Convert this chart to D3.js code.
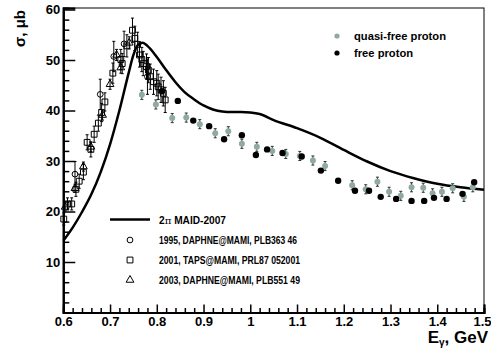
<!DOCTYPE html>
<html>
<head>
<meta charset="utf-8">
<script src="https://cdn.jsdelivr.net/npm/d3@7"></script>
<style>
  html, body { margin: 0; padding: 0; background: #fff; }
  svg { display: block; }
  text { font-family: "Liberation Sans", Arial, Helvetica, sans-serif; font-weight: bold; fill: #000; }
</style>
</head>
<body>
<svg id="chart" width="491" height="349"></svg>
<script>
// σ(γp) vs E_γ: MAID-2007 curve, quasi-free / free proton, and old MAMI data

// 2π MAID-2007
const maidE = [0.60, 0.62, 0.64, 0.66, 0.68, 0.70, 0.72, 0.74, 0.75, 0.76, 0.77, 0.78, 0.80, 0.82, 0.84, 0.86, 0.88, 0.90, 0.92, 0.94, 0.96, 0.98, 1.00, 1.02, 1.05, 1.10, 1.15, 1.20, 1.25, 1.30, 1.35, 1.40, 1.45, 1.50];
const maidS = [14.2, 16.8, 19.9, 23.4, 27.8, 33.3, 40.0, 47.5, 51.0, 53.0, 53.4, 52.8, 50.6, 48.0, 45.6, 43.6, 42.2, 41.0, 40.2, 39.8, 39.7, 39.7, 39.6, 39.3, 38.1, 36.5, 34.6, 32.2, 29.9, 28.0, 26.6, 25.5, 24.8, 24.3];

// quasi-free proton
const qfE = [0.768, 0.798, 0.833, 0.863, 0.892, 0.925, 0.953, 0.982, 1.014, 1.047, 1.076, 1.106, 1.134, 1.160, 1.218, 1.247, 1.272, 1.297, 1.322, 1.345, 1.370, 1.390, 1.410, 1.433, 1.457, 1.476];
const qfS = [43.1, 41.2, 38.5, 38.6, 37.3, 35.5, 35.9, 33.4, 32.8, 32.0, 31.4, 31.0, 30.1, 29.0, 25.2, 24.4, 25.9, 23.9, 23.1, 24.8, 24.7, 23.6, 23.9, 24.6, 22.9, 24.8];
const qfErr = 0.9;

// free proton
const fpE = [0.811, 0.845, 0.878, 0.912, 0.944, 0.982, 1.012, 1.036, 1.069, 1.110, 1.151, 1.188, 1.224, 1.254, 1.279, 1.312, 1.345, 1.372, 1.393, 1.420, 1.454, 1.479];
const fpS = [43.8, 41.9, 38.0, 36.9, 34.3, 35.1, 31.2, 32.3, 31.6, 30.9, 28.1, 26.1, 24.1, 24.1, 22.9, 22.5, 22.1, 22.1, 22.7, 22.5, 23.5, 25.8];

// 1995, DAPHNE@MAMI (circles)
const d95E = [0.625, 0.679, 0.708, 0.730, 0.780];
const d95S = [27.4, 43.2, 50.7, 53.2, 46.7];
const d95Err = [2.5, 3.0, 3.0, 2.5, 3.5];

// 2001, TAPS@MAMI (squares)
const t01E = [0.601, 0.609, 0.618, 0.627, 0.634, 0.643, 0.651, 0.659, 0.666, 0.675, 0.682, 0.689, 0.706, 0.723, 0.726, 0.736, 0.748, 0.753, 0.759, 0.763, 0.768, 0.771, 0.778, 0.782, 0.786, 0.793, 0.800, 0.803, 0.809, 0.814, 0.818];
const t01S = [18.5, 21.5, 21.5, 24.4, 26.0, 27.8, 33.7, 32.3, 35.3, 37.5, 39.6, 41.7, 47.4, 50.1, 49.3, 52.8, 55.9, 54.3, 53.1, 51.0, 50.1, 49.3, 48.7, 48.0, 46.7, 45.7, 45.4, 44.7, 44.1, 43.4, 42.1];
const t01Err = [1.2, 1.2, 1.2, 1.4, 1.4, 1.5, 1.5, 1.5, 1.6, 1.6, 1.8, 1.8, 2.0, 2.0, 2.0, 2.2, 2.4, 2.4, 2.4, 2.4, 2.4, 2.4, 2.5, 2.5, 2.5, 2.5, 2.5, 2.5, 2.5, 2.5, 2.5];

// 2003, DAPHNE@MAMI (triangles)
const d03E = [0.604, 0.625, 0.643, 0.659, 0.684, 0.700, 0.714, 0.723, 0.741];
const d03S = [20.9, 24.6, 28.9, 32.8, 39.1, 45.2, 51.0, 48.5, 53.4];
const d03Err = [0.8, 0.8, 0.9, 0.9, 1.0, 1.0, 1.1, 1.1, 1.2];

const xMajor = [0.6, 0.7, 0.8, 0.9, 1.0, 1.1, 1.2, 1.3, 1.4, 1.5];
const yMajor = [10, 20, 30, 40, 50, 60];

const legendOld = ["1995, DAPHNE@MAMI, PLB363 46", "2001, TAPS@MAMI, PRL87 052001", "2003, DAPHNE@MAMI, PLB551 49"];
const legendNew = ["quasi-free proton", "free proton"];

const GREY = "#8eaaa2";
const ML = 63.3, MR = 484, MT = 8, MB = 312.5;

const svg = d3.select("#chart");
const x = d3.scaleLinear().domain([0.6, 1.5]).range([ML, MR]);
const y = d3.scaleLinear().domain([0, 60.3]).range([MB, MT]);

const xMinor = d3.range(0.6, 1.5001, 0.02).filter(v => Math.abs(v * 10 - Math.round(v * 10)) > 1e-6);
const yMinor = d3.range(2, 60, 2).filter(v => v % 10 !== 0);

// frame
svg.append("rect")
  .attr("x", ML).attr("y", MT).attr("width", MR - ML).attr("height", MB - MT)
  .attr("fill", "none").attr("stroke", "#000").attr("stroke-width", 1);

// axes (ticks point into the plot, ROOT style)
const fmtX = d => String(+d.toFixed(1));
const gx = svg.append("g").attr("transform", `translate(0,${MB})`);
gx.call(d3.axisBottom(x).tickValues(xMajor).tickSize(-8).tickPadding(4.5).tickFormat(fmtX));
const gxm = svg.append("g").attr("transform", `translate(0,${MB})`);
gxm.call(d3.axisBottom(x).tickValues(xMinor).tickSize(-4.5).tickFormat(""));
const gy = svg.append("g").attr("transform", `translate(${ML},0)`);
gy.call(d3.axisLeft(y).tickValues(yMajor).tickSize(-12).tickPadding(3).tickFormat(d3.format("d")));
const gym = svg.append("g").attr("transform", `translate(${ML},0)`);
gym.call(d3.axisLeft(y).tickValues(yMinor).tickSize(-6).tickFormat(""));

[gx, gxm, gy, gym].forEach(g => {
  g.select(".domain").attr("stroke", "#000").attr("stroke-width", 2);
  g.selectAll(".tick line").attr("stroke", "#000").attr("stroke-width", 1.5);
  g.selectAll(".tick text").attr("font-size", 13).attr("font-family", null).attr("fill", "#000");
});
// last x label sits at the right edge: pull it in so it stays readable
gx.selectAll(".tick text").filter(d => d === 1.5).attr("text-anchor", "end").attr("x", 7);

// axis titles
svg.append("text")
  .attr("transform", `translate(25,10) rotate(-90)`)
  .attr("text-anchor", "end")
  .attr("font-size", 15)
  .text("σ, μb");
const xt = svg.append("text")
  .attr("x", 488).attr("y", 343)
  .attr("text-anchor", "end")
  .attr("font-size", 17);
xt.append("tspan").text("E");
xt.append("tspan").attr("font-size", 10).attr("dy", 3).text("γ");
xt.append("tspan").attr("dy", -3).text(", GeV");

// MAID curve
const maid = maidE.map((e, i) => [e, maidS[i]]);
const line = d3.line().x(d => x(d[0])).y(d => y(d[1])).curve(d3.curveMonotoneX);
svg.append("path").attr("d", line(maid))
  .attr("fill", "none").attr("stroke", "#000").attr("stroke-width", 2.5);

// error bars with small caps
function errBars(E, S, err, col) {
  E.forEach((e, i) => {
    const er = Array.isArray(err) ? err[i] : err;
    const cx = x(e), y1 = y(S[i] + er), y2 = y(S[i] - er);
    svg.append("line").attr("x1", cx).attr("x2", cx).attr("y1", y1).attr("y2", y2)
      .attr("stroke", col).attr("stroke-width", 1);
    [y1, y2].forEach(yy => svg.append("line")
      .attr("x1", cx - 1.5).attr("x2", cx + 1.5).attr("y1", yy).attr("y2", yy)
      .attr("stroke", col).attr("stroke-width", 1));
  });
}

const sym = {
  circle: d3.symbol().type(d3.symbolCircle).size(26),
  square: d3.symbol().type(d3.symbolSquare).size(34),
  triangle: d3.symbol().type(d3.symbolTriangle).size(26),
};

function openPts(E, S, err, kind) {
  errBars(E, S, err, "#000");
  E.forEach((e, i) => svg.append("path")
    .attr("d", sym[kind]())
    .attr("transform", `translate(${x(e)},${y(S[i])})`)
    .attr("fill", "none").attr("stroke", "#000").attr("stroke-width", 1));
}

openPts(t01E, t01S, t01Err, "square");
openPts(d95E, d95S, d95Err, "circle");
openPts(d03E, d03S, d03Err, "triangle");

// quasi-free (grey) and free (black) proton
errBars(qfE, qfS, qfErr, "#333");
svg.append("g").selectAll("circle").data(qfE).join("circle")
  .attr("cx", d => x(d)).attr("cy", (d, i) => y(qfS[i])).attr("r", 3)
  .attr("fill", GREY);
svg.append("g").selectAll("circle").data(fpE).join("circle")
  .attr("cx", d => x(d)).attr("cy", (d, i) => y(fpS[i])).attr("r", 3.2)
  .attr("fill", "#000");

// top-right legend
const lg = svg.append("g");
[[GREY, 36], ["#000", 53]].forEach(([c, yy], i) => {
  lg.append("circle").attr("cx", 337).attr("cy", yy).attr("r", 2.6).attr("fill", c);
  lg.append("text").attr("x", 354).attr("y", yy + 4).attr("font-size", 11.2).text(legendNew[i]);
});

// bottom-left legend (narrow Helvetica look: squeeze 10px text to the reference widths)
svg.append("line").attr("x1", 110).attr("x2", 150).attr("y1", 219.5).attr("y2", 219.5)
  .attr("stroke", "#000").attr("stroke-width", 2.5);
const mt = svg.append("text").attr("x", 159).attr("y", 223.5).attr("font-size", 10)
  .attr("textLength", 67).attr("lengthAdjust", "spacingAndGlyphs");
mt.append("tspan").text("2");
mt.append("tspan").attr("font-family", "DejaVu Serif").attr("font-weight", "normal").text("π");
mt.append("tspan").text(" MAID-2007");
const oldW = [138, 141, 141];
["circle", "square", "triangle"].forEach((k, i) => {
  const yy = 240 + i * 20;
  svg.append("path").attr("d", sym[k]())
    .attr("transform", `translate(130,${yy})`)
    .attr("fill", "none").attr("stroke", "#000").attr("stroke-width", 1);
  svg.append("text").attr("x", 159).attr("y", yy + 3.6).attr("font-size", 10)
    .attr("textLength", oldW[i]).attr("lengthAdjust", "spacingAndGlyphs")
    .text(legendOld[i]);
});
</script>
</body>
</html>
